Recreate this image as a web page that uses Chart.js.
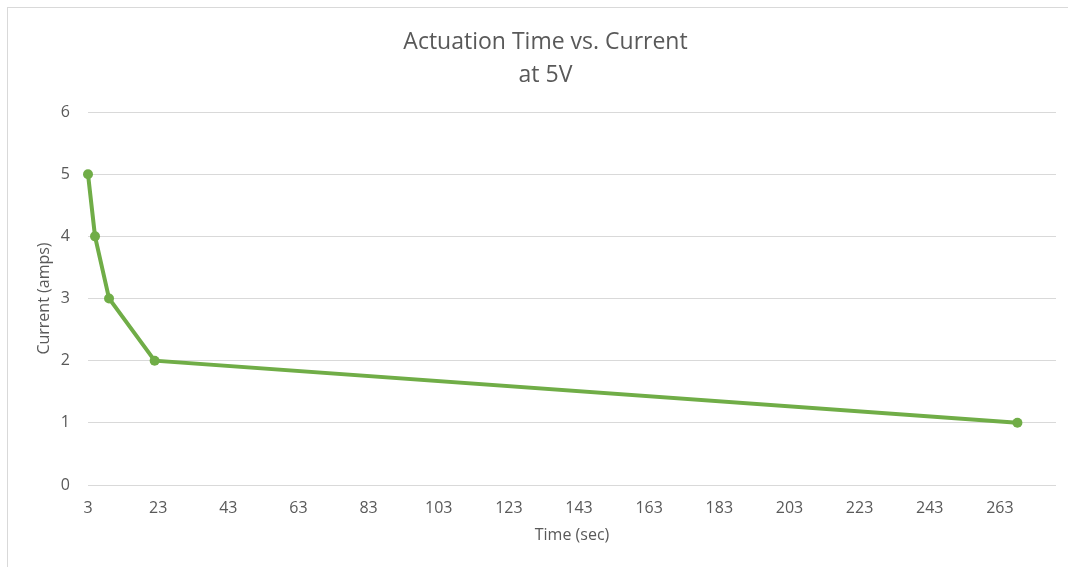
<!DOCTYPE html>
<html>
<head>
<meta charset="utf-8">
<script src="https://cdn.jsdelivr.net/npm/chart.js@4.4.1/dist/chart.umd.min.js"></script>
<style>
  html, body { margin: 0; padding: 0; background: #fff; overflow: hidden; }
  #wrap { position: absolute; left: 0; top: 0; width: 1068px; height: 567px; }
  #frame { position: absolute; left: 7px; top: 7px; width: 1080px; height: 600px; border: 1px solid #d9d9d9; }
</style>
</head>
<body>
<div id="frame"></div>
<div id="wrap"><canvas id="chart" width="1068" height="567"></canvas></div>
<script>
const titleLines = ['Actuation Time vs. Current', 'at 5V'];
const timeSec = [3, 5, 9, 22, 268];
const currentAmps = [5, 4, 3, 2, 1];
const xTicks = [3, 23, 43, 63, 83, 103, 123, 143, 163, 183, 203, 223, 243, 263];
const yTicks = [0, 1, 2, 3, 4, 5, 6];

const fontFamily = '"Open Sans", "Noto Sans", sans-serif';
const textColor = '#595959';
const green = '#70ad47';

const ctx = document.getElementById('chart');
new Chart(ctx, {
    type: 'scatter',
    data: {
        datasets: [{
            data: timeSec.map((t, i) => ({ x: t, y: currentAmps[i] })),
            showLine: true,
            clip: false,
            borderColor: green,
            backgroundColor: green,
            borderWidth: 4,
            pointRadius: 5,
            pointHoverRadius: 5,
            pointBorderWidth: 0
        }]
    },
    options: {
        responsive: false,
        animation: false,
        layout: { padding: { left: 35, right: 12, top: 0, bottom: 22 } },
        plugins: {
            legend: { display: false },
            tooltip: { enabled: false },
            title: {
                display: true,
                text: titleLines,
                color: textColor,
                font: { family: fontFamily, size: 23, weight: 'normal', lineHeight: 1.435 },
                padding: { top: 26, bottom: 20 }
            }
        },
        scales: {
            x: {
                type: 'linear',
                min: 3,
                max: 279,
                afterBuildTicks: (scale) => { scale.ticks = xTicks.map(v => ({ value: v })); },
                afterFit: (scale) => { scale.height = 60; },
                grid: { display: false, drawTicks: false },
                border: { display: false },
                ticks: { color: textColor, font: { family: fontFamily, size: 16 }, padding: 14, autoSkip: false, maxRotation: 0 },
                title: {
                    display: true,
                    text: 'Time (sec)',
                    color: textColor,
                    font: { family: fontFamily, size: 16 },
                    padding: { top: 0, bottom: 0 }
                }
            },
            y: {
                min: 0,
                max: 6,
                afterBuildTicks: (scale) => { scale.ticks = yTicks.map(v => ({ value: v })); },
                afterFit: (scale) => { scale.width = 53; },
                grid: { color: '#d9d9d9', lineWidth: 1, drawTicks: false },
                border: { display: false },
                ticks: { color: textColor, font: { family: fontFamily, size: 16 }, padding: 18 },
                title: {
                    display: true,
                    text: 'Current (amps)',
                    color: textColor,
                    font: { family: fontFamily, size: 16 },
                    padding: { top: 0, bottom: 0 }
                }
            }
        }
    }
});
</script>
</body>
</html>
